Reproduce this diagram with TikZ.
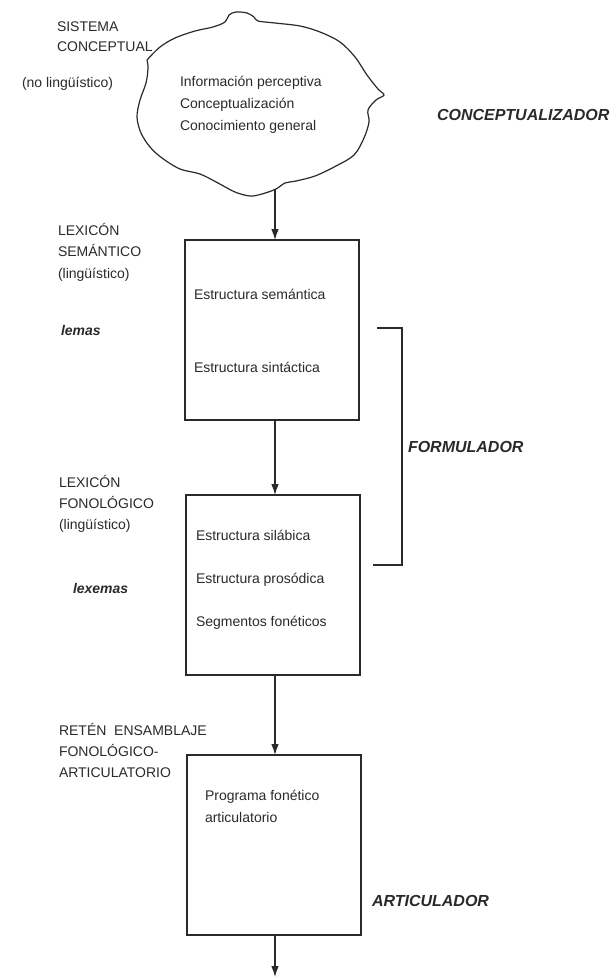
\documentclass[tikz,border=0pt]{standalone}
\usepackage{fontspec}
\setmainfont{Liberation Sans}
\usetikzlibrary{arrows.meta}
\definecolor{ink}{HTML}{2A2A2A}
\begin{document}
\begin{tikzpicture}[x=1pt,y=-1pt,
  every node/.style={text=ink, inner sep=0pt, outer sep=0pt},
  txt/.style={anchor=west, align=left, font=\fontsize{14}{#1}\selectfont},
  txt/.default=21,
  big/.style={anchor=west, font=\fontsize{16}{18}\selectfont\bfseries\itshape},
  boxst/.style={draw=ink, line width=1.1pt, anchor=north west, minimum width=174pt, minimum height=180pt},
  arr/.style={draw=ink, line width=1.1pt, -{Latex[length=11pt,width=7.5pt]}},
  ln/.style={draw=ink, line width=1.1pt},
]
\useasboundingbox[fill=white] (0,0) rectangle (613,978);

% cloud (conceptualizer)
\draw[ink, line width=1.2pt] plot[smooth, tension=0.55] coordinates {
 (147,60) (160,47) (175,38) (195,31) (213,27) (225,22) (229,15) (236,12) (247,13)
 (254,17) (258,21) (275,23) (300,26) (320,32) (340,42) (355,57) (367,75) (378,89)
 (384,95) (376,100) (368,110) (369,122) (364,138) (354,155) (336,166) (315,176)
 (296,181) (285,183) (276,189) (262,194) (250,196) (235,192) (218,183) (200,174)
 (180,169) (162,158) (150,147) (141,133) (137,117) (140,100) (146,83) (148,68) (147,60)};
\coordinate (cloudbot) at (275,189);

\node[txt=20] (sis) at (57,37) {SISTEMA\\CONCEPTUAL};
\node[txt] (nol) at (22,84) {(no lingüístico)};
\node[txt=22] (ctxt) at (180,105) {Información perceptiva\\Conceptualización\\Conocimiento general};
\node[big] (conc) at (437,115) {CONCEPTUALIZADOR};

% box 1
\node[boxst] (b1) at (185,240) {};
\node[txt] (es) at (194,294) {Estructura semántica};
\node[txt] (esin) at (194,367) {Estructura sintáctica};
\node[txt=21.5] (lexs) at (58,252) {LEXICÓN\\SEMÁNTICO\\(lingüístico)};
\node[big, font=\fontsize{14}{16}\selectfont\bfseries\itshape] (lemas) at (61,330) {lemas};

% bracket
\coordinate (brA) at (377,328);
\coordinate (brB) at (402,328);
\coordinate (brC) at (402,565);
\coordinate (brD) at (373,565);
\draw[ln] (brA) -- (brB) -- (brC) -- (brD);
\node[big] (form) at (408,447) {FORMULADOR};

% box 2
\node[boxst] (b2) at (186,495) {};
\node[txt=43] (b2t) at (196,580) {Estructura silábica\\Estructura prosódica\\Segmentos fonéticos};
\node[txt] (lexf) at (59,504) {LEXICÓN\\FONOLÓGICO\\(lingüístico)};
\node[big, font=\fontsize{14}{16}\selectfont\bfseries\itshape] (lexemas) at (73,588) {lexemas};

% box 3
\node[boxst] (b3) at (187,755) {};
\node[txt=22] (prog) at (205,806) {Programa fonético\\articulatorio};
\node[txt] (ret) at (59,750) {RETÉN\ \ ENSAMBLAJE\\FONOLÓGICO-\\ARTICULATORIO};
\node[big] (artic) at (372,901) {ARTICULADOR};
\coordinate (endpt) at (275,977);

% arrows
\draw[arr] (cloudbot) -- (cloudbot |- b1.north);
\draw[arr] (cloudbot |- b1.south) -- (cloudbot |- b2.north);
\draw[arr] (cloudbot |- b2.south) -- (cloudbot |- b3.north);
\draw[arr] (cloudbot |- b3.south) -- (endpt);
\end{tikzpicture}
\end{document}
